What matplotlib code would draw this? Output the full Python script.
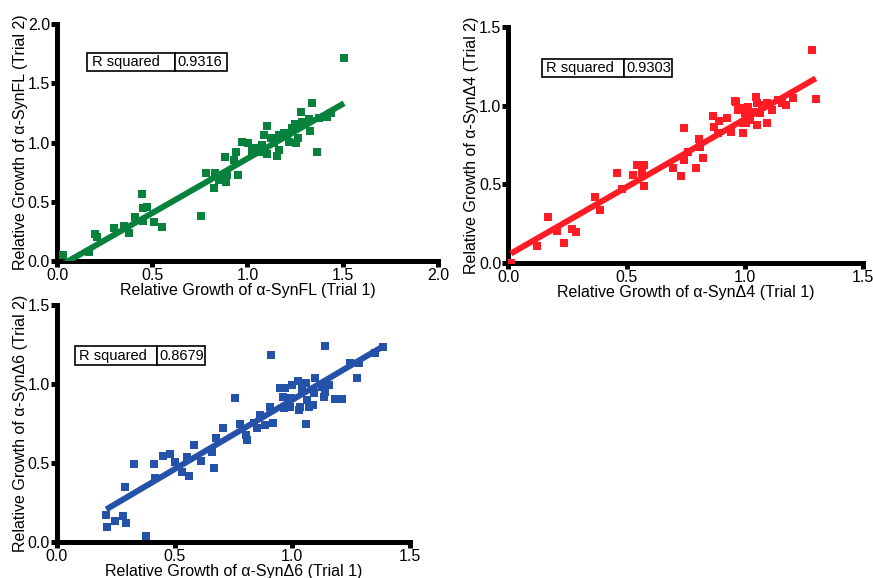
import numpy as np
import matplotlib
matplotlib.use("Agg")
import matplotlib.pyplot as plt

plt.rcParams['font.family'] = ['Liberation Sans', 'DejaVu Sans']

# ---- data ----
# alpha-SynFL
fl_x = [0.03, 0.17, 0.20, 0.21, 0.30, 0.35, 0.38, 0.41, 0.445, 0.45, 0.47, 0.45, 0.51, 0.55,
        0.756, 0.783, 0.826, 0.853, 0.888, 0.88, 0.893, 0.928, 0.942, 0.949, 0.972, 1.004,
        1.025, 1.042, 1.06, 1.074, 1.086, 1.10, 1.104, 1.121, 1.139, 1.153, 1.165, 1.168,
        1.191, 1.209, 1.217, 1.235, 1.249, 1.256, 1.267, 1.279, 1.288, 1.323, 1.328, 1.337,
        1.363, 1.375, 1.419, 1.437, 1.507, 0.832, 0.784]
fl_y = [0.05, 0.08, 0.23, 0.20, 0.275, 0.295, 0.24, 0.374, 0.565, 0.445, 0.453, 0.34, 0.332, 0.29,
        0.383, 0.745, 0.619, 0.684, 0.669, 0.875, 0.726, 0.852, 0.917, 0.726, 1.007, 0.998,
        0.928, 0.956, 0.922, 0.979, 1.063, 1.142, 0.90, 1.041, 0.993, 0.889, 1.063, 0.937,
        1.078, 1.063, 1.007, 1.12, 1.153, 0.993, 1.035, 1.26, 1.17, 1.198, 1.097, 1.331,
        0.922, 1.204, 1.218, 1.246, 1.716, 0.74, 0.745]
fl_fit = (0.92, -0.055)
fl_r2 = "0.9316"

# alpha-SynD4
d4_x = [0.011, 0.12, 0.169, 0.204, 0.237, 0.268, 0.285, 0.366, 0.387, 0.458, 0.479, 0.525,
        0.545, 0.573, 0.563, 0.573, 0.697, 0.728, 0.742, 0.742, 0.761, 0.793, 0.807, 0.81,
        0.821, 0.866, 0.869, 0.887, 0.892, 0.923, 0.94, 0.958, 0.962, 0.972, 0.986, 0.993,
        0.993, 1.0, 1.004, 1.014, 1.021, 1.035, 1.046, 1.049, 1.049, 1.063, 1.071, 1.092,
        1.094, 1.113, 1.141, 1.155, 1.173, 1.204, 1.282, 1.299]
d4_y = [0.0, 0.112, 0.292, 0.207, 0.131, 0.218, 0.197, 0.423, 0.338, 0.575, 0.469, 0.56,
        0.624, 0.626, 0.571, 0.49, 0.606, 0.556, 0.86, 0.655, 0.708, 0.602, 0.786, 0.736,
        0.666, 0.934, 0.862, 0.824, 0.904, 0.919, 0.834, 1.03, 1.025, 0.972, 0.983, 0.888,
        0.828, 0.951, 0.888, 0.994, 0.909, 0.961, 1.057, 1.018, 0.877, 0.951, 1.004, 1.015,
        0.888, 0.972, 1.036, 1.015, 1.004, 1.046, 1.353, 1.04]
d4_fit = (0.862, 0.053)
d4_r2 = "0.9303"

# alpha-SynD6
d6_x = [0.21, 0.212, 0.248, 0.28, 0.295, 0.29, 0.326, 0.378, 0.411, 0.418, 0.453, 0.482,
        0.503, 0.531, 0.552, 0.56, 0.581, 0.612, 0.659, 0.669, 0.677, 0.705, 0.755, 0.779,
        0.805, 0.807, 0.836, 0.85, 0.864, 0.885, 0.904, 0.909, 0.918, 0.946, 0.963, 0.97,
        0.96, 0.999, 0.994, 0.992, 1.024, 1.027, 1.034, 1.041, 1.059, 1.059, 1.062, 1.069,
        1.088, 1.091, 1.096, 1.126, 1.133, 1.14, 1.137, 1.154, 1.18, 1.211, 1.244, 1.275,
        1.282, 1.353, 1.385]
d6_y = [0.169, 0.095, 0.131, 0.163, 0.116, 0.348, 0.49, 0.038, 0.49, 0.401, 0.543, 0.553,
        0.503, 0.443, 0.539, 0.416, 0.612, 0.511, 0.566, 0.465, 0.655, 0.718, 0.908, 0.743,
        0.676, 0.644, 0.75, 0.718, 0.803, 0.739, 0.855, 1.183, 0.75, 0.971, 0.845, 0.971,
        0.919, 0.993, 0.908, 0.855, 1.02, 0.834, 0.855, 0.965, 1.007, 0.746, 0.898, 0.855,
        0.866, 0.94, 1.039, 0.982, 0.914, 0.95, 1.24, 0.993, 0.902, 0.902, 1.134, 1.035,
        1.134, 1.193, 1.235]
d6_fit = (0.879, 0.02)
d6_r2 = "0.8679"

panels = [
    dict(x=fl_x, y=fl_y, fit=fl_fit, r2=fl_r2, color='#08813c', lim=2.0,
         ticks=[0.0, 0.5, 1.0, 1.5, 2.0], name='\u03b1-SynFL',
         rect=[0.0653, 0.5484, 0.4364, 0.4100],
         box=[0.079, 0.802, 0.367, 0.076]),
    dict(x=d4_x, y=d4_y, fit=d4_fit, r2=d4_r2, color='#ff1c25', lim=1.5,
         ticks=[0.0, 0.5, 1.0, 1.5], name='\u03b1-Syn\u03944',
         rect=[0.5823, 0.5444, 0.4066, 0.4093],
         box=[0.095, 0.787, 0.366, 0.076]),
    dict(x=d6_x, y=d6_y, fit=d6_fit, r2=d6_r2, color='#2352a8', lim=1.5,
         ticks=[0.0, 0.5, 1.0, 1.5], name='\u03b1-Syn\u03946',
         rect=[0.0650, 0.0628, 0.4047, 0.4095],
         box=[0.052, 0.746, 0.368, 0.080]),
]

fig = plt.figure(figsize=(8.73, 5.78), dpi=100)

for p in panels:
    ax = fig.add_axes(p['rect'])
    x = np.array(p['x'])
    y = np.array(p['y'])
    ax.scatter(x, y, marker='s', s=28, color=p['color'], linewidths=0, zorder=3)
    m, b = p['fit']
    xl = np.array([x.min(), x.max()])
    ax.plot(xl, m * xl + b, color=p['color'], lw=4.3, solid_capstyle='butt', zorder=4)

    ax.set_xlim(0, p['lim'])
    ax.set_ylim(0, p['lim'])
    ax.set_xticks(p['ticks'])
    ax.set_yticks(p['ticks'])
    ax.set_xticklabels([f'{t:.1f}' for t in p['ticks']])
    ax.set_yticklabels([f'{t:.1f}' for t in p['ticks']])
    for s in ['top', 'right']:
        ax.spines[s].set_visible(False)
    for s in ['left', 'bottom']:
        ax.spines[s].set_linewidth(3.6)
        ax.spines[s].set_capstyle('projecting')
    ax.tick_params(direction='out', length=4, width=3.6, labelsize=11.5, pad=1)
    ax.set_xlabel(f"Relative Growth of {p['name']} (Trial 1)", fontsize=11.5, labelpad=0)
    ax.set_ylabel(f"Relative Growth of {p['name']} (Trial 2)", fontsize=11.5, labelpad=0)

    tb = ax.table(cellText=[['R squared', p['r2']]], colWidths=[0.63, 0.37],
                  cellLoc='left', bbox=p['box'])
    tb.auto_set_font_size(False)
    tb.set_fontsize(10.5)
    for cell in tb.get_celld().values():
        cell.set_linewidth(1.2)
        cell.PAD = 0.05

fig.savefig('out.png', dpi=100)
